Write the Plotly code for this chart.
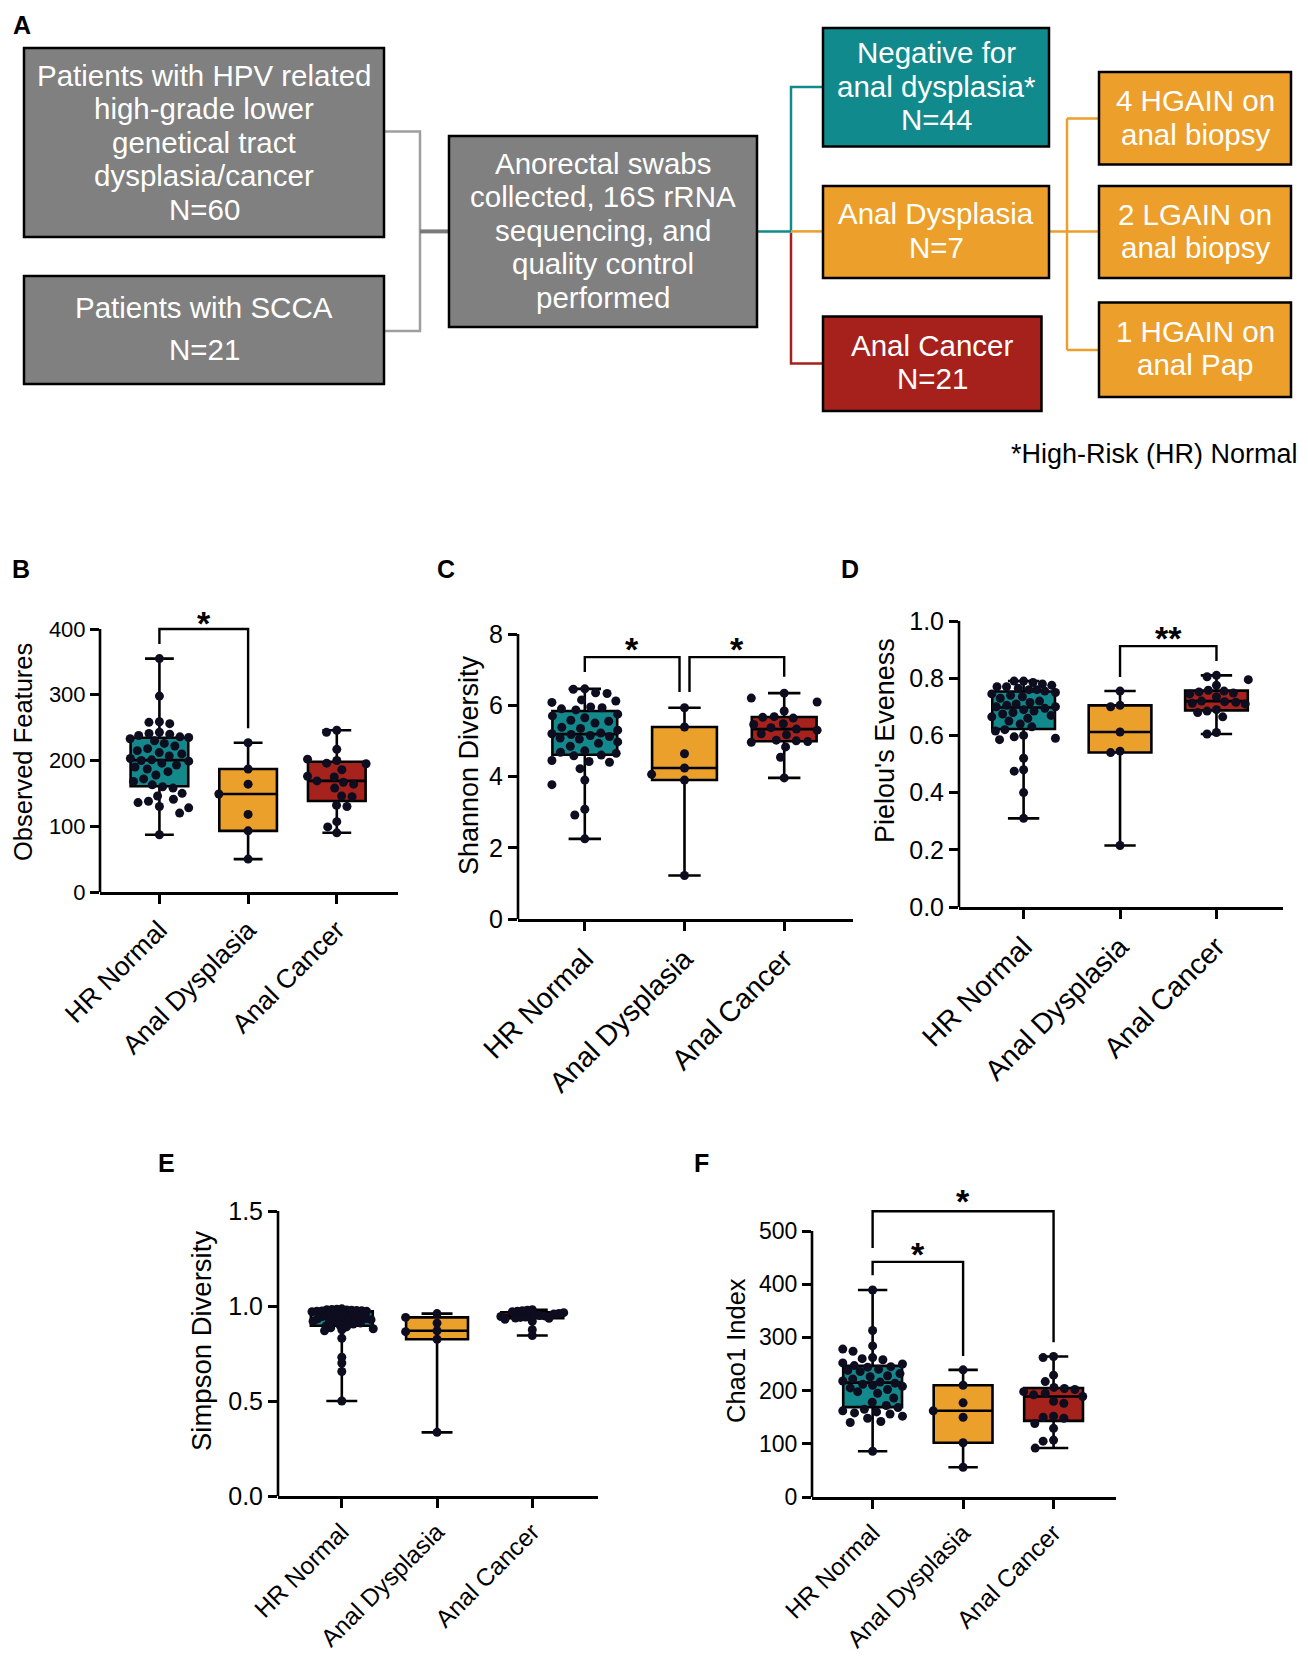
import math
import numpy as np
import plotly.graph_objects as go

# page is 1308 x 1667; the browser body keeps an 8 px margin on every side,
# so the figure is made 16 px smaller to fit without scrolling
PAGE_W, PAGE_H = 1308, 1667
OFF = 8
W, H = PAGE_W - 2 * OFF, PAGE_H - 2 * OFF
FONT = "Liberation Sans, Arial, Helvetica, sans-serif"

# ---------------- data ----------------
categories = ["HR Normal", "Anal Dysplasia", "Anal Cancer"]

obs_hr = [355, 298, 259, 258, 256, 243, 241, 240, 238, 236, 235, 233, 230, 226, 222, 218, 215, 212, 210, 207,
          203, 201, 200, 199, 196, 193, 190, 187, 183, 178, 172, 168, 163, 160, 158, 150, 146, 141, 138, 136,
          130, 128, 120, 87]
obs_ad = [227, 187, 164, 149, 118, 93, 50]
obs_ac = [246, 243, 217, 202, 200, 196, 195, 186, 176, 175, 169, 167, 164, 158, 146, 145, 132, 130, 107, 99, 90]

sha_hr = [6.46, 6.45, 6.35, 6.33, 6.15, 6.12, 6.08, 5.95, 5.93, 5.90, 5.87, 5.75, 5.70, 5.65, 5.58, 5.55, 5.50,
          5.38, 5.35, 5.30, 5.22, 5.20, 5.18, 5.15, 5.12, 5.08, 5.05, 4.97, 4.93, 4.85, 4.72, 4.68, 4.65, 4.60,
          4.58, 4.45, 4.42, 4.40, 4.22, 3.90, 3.77, 3.08, 2.92, 2.25]
sha_ad = [5.93, 5.39, 4.64, 4.24, 4.06, 3.90, 1.22]
sha_ac = [6.34, 6.20, 6.09, 5.84, 5.68, 5.66, 5.64, 5.48, 5.46, 5.37, 5.33, 5.30, 5.20, 5.17, 5.02, 5.00, 4.98,
          4.96, 4.83, 4.54, 3.96]

pie_hr = [0.79, 0.79, 0.785, 0.78, 0.775, 0.77, 0.77, 0.765, 0.76, 0.76, 0.755, 0.75, 0.745, 0.74, 0.735, 0.73,
          0.72, 0.715, 0.71, 0.705, 0.70, 0.70, 0.695, 0.69, 0.685, 0.68, 0.675, 0.67, 0.665, 0.66, 0.65, 0.64,
          0.63, 0.62, 0.615, 0.60, 0.595, 0.59, 0.585, 0.52, 0.48, 0.475, 0.40, 0.31]
pie_ad = [0.755, 0.705, 0.70, 0.612, 0.545, 0.54, 0.215]
pie_ac = [0.81, 0.805, 0.795, 0.775, 0.758, 0.755, 0.752, 0.748, 0.745, 0.735, 0.72, 0.718, 0.716, 0.712, 0.71,
          0.69, 0.685, 0.68, 0.665, 0.61, 0.605]

sim_hr = [0.985, 0.983, 0.981, 0.98, 0.979, 0.978, 0.976, 0.975, 0.974, 0.973, 0.972, 0.97, 0.955, 0.953, 0.95,
          0.948, 0.945, 0.943, 0.94, 0.938, 0.936, 0.934, 0.932, 0.93, 0.928, 0.925, 0.922, 0.92, 0.917, 0.914,
          0.91, 0.905, 0.90, 0.895, 0.89, 0.885, 0.88, 0.875, 0.87, 0.83, 0.73, 0.70, 0.655, 0.50]
sim_ad = [0.96, 0.94, 0.91, 0.87, 0.865, 0.825, 0.335]
sim_ac = [0.98, 0.978, 0.975, 0.972, 0.97, 0.965, 0.96, 0.958, 0.955, 0.952, 0.95, 0.948, 0.945, 0.942, 0.94,
          0.937, 0.935, 0.93, 0.92, 0.875, 0.845]

cha_hr = [389, 313, 284, 278, 274, 262, 260, 258, 252, 250, 247, 245, 244, 240, 238, 236, 232, 228, 226, 222,
          218, 216, 214, 212, 210, 208, 205, 202, 198, 195, 186, 178, 172, 168, 165, 162, 160, 158, 156, 152,
          148, 142, 140, 86]
cha_ad = [239, 210, 177, 162, 150, 102, 56]
cha_ac = [264, 262, 229, 217, 206, 204, 202, 198, 195, 192, 189, 180, 176, 152, 150, 148, 138, 129, 107, 105, 92]

# significance brackets: (left group, right group, bar level, left leg end, right leg end, label, label x, label y)
obs_sig = [(0, 1, 400, 377, 249, "*", 0.5, 421)]
sha_sig = [(0, 0.95, 7.35, 6.93, 6.37, "*", 0.475, 7.8), (1.05, 2, 7.35, 6.37, 6.8, "*", 1.525, 7.8)]
pie_sig = [(1, 2, 0.912, 0.804, 0.86, "**", 1.5, 0.97)]
sim_sig = []
cha_sig = [(0, 1, 442, 417, 265, "*", 0.5, 472), (0, 2, 537, 468, 291, "*", 1.0, 571)]

obs_ticks = [0, 100, 200, 300, 400]
sha_ticks = [0, 2, 4, 6, 8]
pie_ticks = [0.0, 0.2, 0.4, 0.6, 0.8, 1.0]
sim_ticks = [0.0, 0.5, 1.0, 1.5]
cha_ticks = [0, 100, 200, 300, 400, 500]

GROUP_COLORS = ["#14898C", "#ECA02C", "#A6221C"]
DOT = "#0d0d1f"

# ---------------- helpers ----------------
def fx(px):
    return (px - OFF) / W


def fy(py):
    return 1 - (py - OFF) / H


def swarm_offsets(vals, ppu, d, maxw):
    ys = [v * ppu for v in vals]
    order = sorted(range(len(vals)), key=lambda i: -vals[i])
    placed = []
    offs = [0.0] * len(vals)
    for i in order:
        y = ys[i]
        near = [(px, py) for px, py in placed if abs(py - y) < d]
        cands = [0.0]
        for px, py in near:
            dx = math.sqrt(max(d * d - (py - y) ** 2, 0.0))
            cands += [px + dx, px - dx]
        cands = sorted(set(round(c, 6) for c in cands), key=lambda c: (abs(c), c))
        chosen = None
        for c in cands:
            if abs(c) > maxw + 1e-9:
                continue
            if all((c - px) ** 2 + (y - py) ** 2 >= d * d - 1e-6 for px, py in near):
                chosen = c
                break
        if chosen is None:
            grid = np.linspace(-maxw, maxw, 25)
            chosen = float(max(grid, key=lambda c: (min((c - px) ** 2 + (y - py) ** 2 for px, py in near), -abs(c))))
        placed.append((chosen, y))
        offs[i] = chosen
    return offs


panels = [
    dict(letter="B", groups=[obs_hr, obs_ad, obs_ac], ticks=obs_ticks, fmt="{:.0f}", title="Observed Features",
         sig=obs_sig, x0=100, x1=398, yzero=892, ytickpx=629, ytop=445, d=10.5,
         tick_fs=22, cat_fs=26.5, title_fs=25.5, title_x=23, title_y=752, lx=10, ly=569),
    dict(letter="C", groups=[sha_hr, sha_ad, sha_ac], ticks=sha_ticks, fmt="{:.0f}", title="Shannon Diversity",
         sig=sha_sig, x0=518, x1=853, yzero=919, ytickpx=634, ytop=8.3, d=11.5,
         tick_fs=25, cat_fs=28.5, title_fs=27, title_x=469, title_y=765, lx=444, ly=569),
    dict(letter="D", groups=[pie_hr, pie_ad, pie_ac], ticks=pie_ticks, fmt="{:.1f}", title="Pielou's Eveness",
         sig=pie_sig, x0=959, x1=1283, yzero=907, ytickpx=621, ytop=1.03, d=9.5,
         tick_fs=25, cat_fs=28.5, title_fs=27, title_x=885, title_y=740, lx=848, ly=569),
    dict(letter="E", groups=[sim_hr, sim_ad, sim_ac], ticks=sim_ticks, fmt="{:.1f}", title="Simpson Diversity",
         sig=sim_sig, x0=278, x1=598, yzero=1496, ytickpx=1211, ytop=1.5, d=5.0,
         tick_fs=25, cat_fs=24.5, title_fs=27.5, title_x=201, title_y=1341, lx=165, ly=1163),
    dict(letter="F", groups=[cha_hr, cha_ad, cha_ac], ticks=cha_ticks, fmt="{:.0f}", title="Chao1 Index",
         sig=cha_sig, x0=812, x1=1116, yzero=1497, ytickpx=1231, ytop=590, d=10.5,
         tick_fs=23, cat_fs=24.5, title_fs=25.5, title_x=736, title_y=1350, lx=701, ly=1163),
]

XR = [-0.67, 2.69]
BOXW = 0.65

fig = go.Figure()
shapes = []
annotations = []
layout_axes = {}

for n, p in enumerate(panels, start=1):
    xa = "x" if n == 1 else f"x{n}"
    ya = "y" if n == 1 else f"y{n}"
    xname = "xaxis" if n == 1 else f"xaxis{n}"
    yname = "yaxis" if n == 1 else f"yaxis{n}"
    ppu = (p["yzero"] - p["ytickpx"]) / p["ticks"][-1]
    spacing = (p["x1"] - p["x0"]) / (XR[1] - XR[0])
    top_px = p["yzero"] - p["ytop"] * ppu

    for gi, vals in enumerate(p["groups"]):
        q1, med, q3 = np.percentile(vals, [25, 50, 75], method="weibull")
        fig.add_trace(go.Box(
            x=[gi], q1=[q1], median=[med], q3=[q3], lowerfence=[min(vals)], upperfence=[max(vals)],
            fillcolor=GROUP_COLORS[gi], line=dict(color="black", width=2.6), width=BOXW, whiskerwidth=0.5,
            boxpoints=False, xaxis=xa, yaxis=ya, showlegend=False, hoverinfo="skip"))
        offs = swarm_offsets(vals, ppu, p["d"], 0.33 * spacing)
        fig.add_trace(go.Scatter(
            x=[gi + o / spacing for o in offs], y=vals, mode="markers",
            marker=dict(size=9, color=DOT, line=dict(width=0)), cliponaxis=False,
            xaxis=xa, yaxis=ya, showlegend=False, hoverinfo="skip"))

    for (a, b, lvl, ya_end, yb_end, lab, lxv, lyv) in p["sig"]:
        fig.add_trace(go.Scatter(
            x=[a, a, b, b], y=[ya_end, lvl, lvl, yb_end], mode="lines",
            line=dict(color="black", width=2.4), xaxis=xa, yaxis=ya, showlegend=False, hoverinfo="skip"))
        annotations.append(dict(x=lxv, y=lyv, xref=xa, yref=ya, text=f"<b>{lab}</b>", showarrow=False,
                                xanchor="center", yanchor="middle", yshift=-8,
                                font=dict(family=FONT, size=34, color="black")))

    layout_axes[xname] = dict(
        domain=[fx(p["x0"]), fx(p["x1"])], range=XR, anchor=ya, automargin=False,
        tickmode="array", tickvals=[0, 1, 2], ticktext=categories, tickangle=-45,
        showline=True, linecolor="black", linewidth=2.6, ticks="outside", ticklen=9, tickwidth=2.6,
        tickcolor="black", tickfont=dict(family=FONT, size=p["cat_fs"], color="black"),
        showgrid=False, zeroline=False, fixedrange=True)
    layout_axes[yname] = dict(
        domain=[fy(p["yzero"]), fy(top_px)], range=[0, p["ytop"]], anchor=xa, automargin=False,
        tickmode="array", tickvals=p["ticks"], ticktext=[p["fmt"].format(t) for t in p["ticks"]],
        showline=False, ticks="outside", ticklen=9, tickwidth=2.6, tickcolor="black",
        tickfont=dict(family=FONT, size=p["tick_fs"], color="black"),
        showgrid=False, zeroline=False, fixedrange=True)
    shapes.append(dict(type="line", xref=f"{xa} domain", yref=ya, x0=0, x1=0, y0=0, y1=p["ticks"][-1],
                       line=dict(color="black", width=2.6), layer="above"))
    annotations.append(dict(x=fx(p["title_x"]), y=fy(p["title_y"]), xref="paper", yref="paper",
                            text=p["title"], textangle=-90, showarrow=False, xanchor="center", yanchor="middle",
                            font=dict(family=FONT, size=p["title_fs"], color="black")))
    annotations.append(dict(x=fx(max(p["lx"] - 9, OFF + 2)), y=fy(p["ly"]), xref="paper", yref="paper",
                            text=f"<b>{p['letter']}</b>", showarrow=False, xanchor="left", yanchor="middle",
                            font=dict(family=FONT, size=25, color="black")))

# ---------------- panel A: flow chart ----------------
GRAY = "#808080"
TEAL = "#108A8C"
ORANGE = "#EC9F2B"
RED = "#A6211B"
BOX_FS = 29.5
LS = 33.5  # line step inside the boxes

boxes = [
    (24, 48, 384, 237, GRAY, 204, 142.3, ["Patients with HPV related", "high-grade lower", "genetical tract",
                                          "dysplasia/cancer", "N=60"]),
    (24, 276, 384, 384, GRAY, 204, 328, ["Patients with SCCA", "N=21"]),
    (449, 136, 757, 327, GRAY, 603, 230.4, ["Anorectal swabs", "collected, 16S rRNA", "sequencing, and",
                                            "quality control", "performed"]),
    (823, 28, 1049, 146.5, TEAL, 936, 86, ["Negative for", "anal dysplasia*", "N=44"]),
    (823, 186, 1049, 278, ORANGE, 936, 230.5, ["Anal Dysplasia", "N=7"]),
    (823, 316.5, 1041.5, 411, RED, 932, 362, ["Anal Cancer", "N=21"]),
    (1099, 72, 1291, 164.5, ORANGE, 1195, 117.5, ["4 HGAIN on", "anal biopsy"]),
    (1099, 186, 1291, 278, ORANGE, 1195, 231, ["2 LGAIN on", "anal biopsy"]),
    (1099, 302.5, 1291, 397, ORANGE, 1195, 348, ["1 HGAIN on", "anal Pap"]),
]
# SCCA box has a wider gap between its two lines
line_steps = {1: 42}

connectors = [
    ([384, 420, 420, 384], [131.6, 131.6, 331, 331], "#9E9E9E", 2.5),
    ([420, 449], [231.4, 231.4], "#7A7A7A", 4),
    ([791, 791, 823], [233, 363.5, 363.5], RED, 2.5),
    ([757, 791, 791, 823], [231.4, 231.4, 87, 87], TEAL, 2.5),
    ([791, 823], [231.4, 231.4], ORANGE, 2.5),
    ([1049, 1099], [231.4, 231.4], ORANGE, 2.5),
    ([1067, 1067], [118.4, 350], ORANGE, 2.5),
    ([1067, 1099], [118.4, 118.4], ORANGE, 2.5),
    ([1067, 1099], [350, 350], ORANGE, 2.5),
]

for xs, ys, col, w in connectors:
    path = "M " + " L ".join(f"{fx(a):.5f},{fy(b):.5f}" for a, b in zip(xs, ys))
    shapes.append(dict(type="path", path=path, xref="paper", yref="paper",
                       line=dict(color=col, width=w), layer="below"))

for bi, (x0, y0, x1, y1, col, cx, cy, lines) in enumerate(boxes):
    shapes.append(dict(type="rect", xref="paper", yref="paper", x0=fx(x0), x1=fx(x1), y0=fy(y1), y1=fy(y0),
                       fillcolor=col, line=dict(color="black", width=2.5), layer="above"))
    step = line_steps.get(bi, LS)
    nlines = len(lines)
    for li, txt in enumerate(lines):
        ly = cy + (li - (nlines - 1) / 2) * step
        annotations.append(dict(x=fx(cx), y=fy(ly), xref="paper", yref="paper", text=txt, showarrow=False,
                                xanchor="center", yanchor="middle",
                                font=dict(family=FONT, size=BOX_FS, color="white")))

annotations.append(dict(x=fx(1300), y=fy(454), xref="paper", yref="paper", text="*High-Risk (HR) Normal",
                        showarrow=False, xanchor="right", yanchor="middle",
                        font=dict(family=FONT, size=27, color="black")))
annotations.append(dict(x=fx(11), y=fy(OFF + 1), xref="paper", yref="paper", text="<b>A</b>", showarrow=False,
                        xanchor="left", yanchor="top", font=dict(family=FONT, size=25, color="black")))

fig.update_layout(
    width=W, height=H, margin=dict(l=0, r=0, t=0, b=0, pad=0, autoexpand=False),
    paper_bgcolor="white", plot_bgcolor="rgba(0,0,0,0)",
    shapes=shapes, annotations=annotations, showlegend=False,
    font=dict(family=FONT, color="black"),
    **layout_axes,
)

fig.write_html("out.html", config={"responsive": False, "displayModeBar": False})
